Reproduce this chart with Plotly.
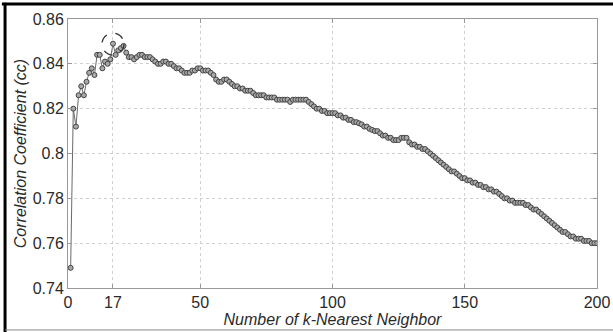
import plotly.graph_objects as go

k_values = list(range(1, 201))
cc_values = [
    0.749, 0.820, 0.812, 0.826, 0.830, 0.826, 0.832, 0.836, 0.838, 0.835,
    0.844, 0.844, 0.838, 0.841, 0.840, 0.842, 0.849, 0.844, 0.846, 0.847,
    0.848, 0.845, 0.843, 0.843, 0.842, 0.843, 0.844, 0.844, 0.843, 0.843,
    0.843, 0.842, 0.841, 0.840, 0.840, 0.841, 0.841, 0.840, 0.840, 0.839,
    0.838, 0.838, 0.837, 0.836, 0.836, 0.836, 0.837, 0.837, 0.838, 0.838,
    0.837, 0.837, 0.837, 0.836, 0.835, 0.833, 0.832, 0.832, 0.833, 0.833,
    0.832, 0.831, 0.830, 0.830, 0.829, 0.829, 0.828, 0.828, 0.828, 0.827,
    0.826, 0.826, 0.826, 0.826, 0.825, 0.825, 0.825, 0.825, 0.824, 0.824,
    0.824, 0.824, 0.824, 0.823, 0.824, 0.824, 0.824, 0.824, 0.824, 0.824,
    0.823, 0.822, 0.821, 0.820, 0.820, 0.819, 0.819, 0.818, 0.818, 0.818,
    0.818, 0.817, 0.817, 0.816, 0.816, 0.815, 0.815, 0.814, 0.814, 0.8135,
    0.813, 0.812, 0.812, 0.811, 0.8105, 0.810, 0.810, 0.809, 0.808, 0.808,
    0.807, 0.807, 0.806, 0.806, 0.806, 0.807, 0.807, 0.807, 0.805, 0.804,
    0.804, 0.803, 0.803, 0.802, 0.802, 0.801, 0.800, 0.799, 0.798, 0.797,
    0.796, 0.795, 0.794, 0.793, 0.792, 0.792, 0.791, 0.790, 0.789, 0.789,
    0.788, 0.788, 0.787, 0.787, 0.786, 0.786, 0.785, 0.785, 0.784, 0.784,
    0.783, 0.783, 0.782, 0.781, 0.780, 0.780, 0.779, 0.779, 0.778, 0.778,
    0.778, 0.778, 0.777, 0.777, 0.776, 0.775, 0.775, 0.774, 0.773, 0.772,
    0.771, 0.770, 0.769, 0.768, 0.767, 0.766, 0.765, 0.765, 0.764, 0.763,
    0.763, 0.762, 0.762, 0.762, 0.761, 0.761, 0.761, 0.760, 0.760, 0.760,
]

x_ticks = [0, 17, 50, 100, 150, 200]
y_ticks = [0.74, 0.76, 0.78, 0.80, 0.82, 0.84, 0.86]
y_tick_labels = ["0.74", "0.76", "0.78", "0.8", "0.82", "0.84", "0.86"]

best_k = 17
best_cc = 0.8488

FONT = "Liberation Sans, Arial, sans-serif"

fig = go.Figure()
fig.add_trace(go.Scatter(
    x=k_values, y=cc_values, mode="lines+markers",
    line=dict(color="#6a6a6a", width=1),
    marker=dict(symbol="circle", size=5, color="#a8a8a8",
                line=dict(color="#444444", width=1)),
    showlegend=False, hoverinfo="x+y",
))

# dashed circle around the best k
rx = 11 / 2.645
ry = 11 / 2242
fig.add_shape(type="circle", xref="x", yref="y",
              x0=best_k - rx, x1=best_k + rx, y0=best_cc - ry, y1=best_cc + ry,
              line=dict(color="#333333", width=1.3, dash="dash"))

# outer frame of the picture
fig.add_shape(type="line", xref="paper", yref="paper",
              x0=-0.119, x1=-0.119, y0=-0.2, y1=1.06,
              line=dict(color="#000000", width=3))
fig.add_shape(type="line", xref="paper", yref="paper",
              x0=-0.125, x1=1.1, y0=1.0558, y1=1.0558,
              line=dict(color="#000000", width=3))
fig.add_shape(type="line", xref="paper", yref="paper",
              x0=-0.119, x1=1.1, y0=-0.156, y1=-0.156,
              line=dict(color="#888888", width=1))

axis_common = dict(
    showline=True, linecolor="#999999", linewidth=1, mirror="ticks",
    showgrid=True, gridcolor="#d0d0d0", griddash="dot", gridwidth=1,
    ticks="inside", ticklen=4, tickcolor="#999999",
    zeroline=False, automargin=False,
    tickfont=dict(family=FONT, size=16, color="#2a2a2a"),
)

fig.update_xaxes(
    range=[0, 200], tickmode="array", tickvals=x_ticks,
    ticktext=[str(t) for t in x_ticks],
    title=dict(text="<i>Number of k-Nearest Neighbor</i>", standoff=0,
               font=dict(family=FONT, size=16, color="#2a2a2a")),
    **axis_common,
)
fig.update_yaxes(
    range=[0.74, 0.86], tickmode="array", tickvals=y_ticks,
    ticktext=y_tick_labels,
    title=dict(text="<i>Correlation Coefficient (cc)</i>", standoff=2,
               font=dict(family=FONT, size=16, color="#2a2a2a")),
    **axis_common,
)

fig.update_layout(
    width=613, height=332,
    margin=dict(l=68, r=16, t=19, b=44),
    paper_bgcolor="white", plot_bgcolor="white",
)

fig.write_html("out.html")
